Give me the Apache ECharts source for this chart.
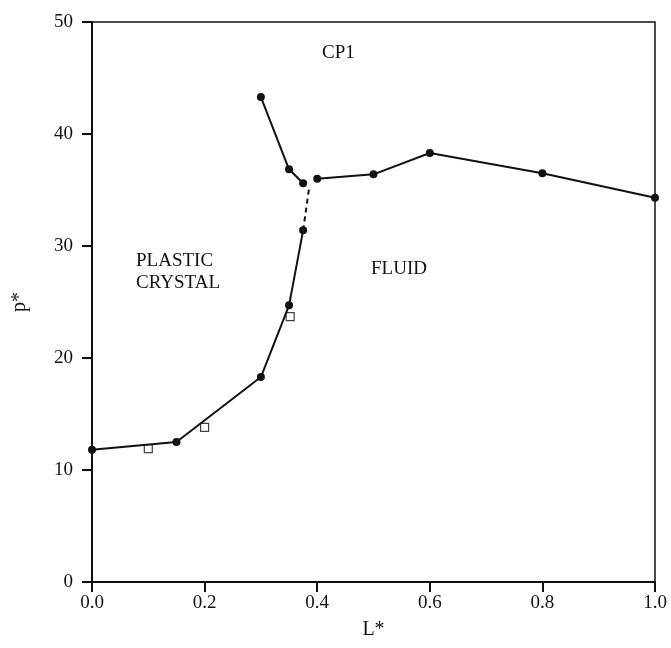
<!DOCTYPE html>
<html>
<head>
<meta charset="utf-8">
<script src="https://cdn.jsdelivr.net/npm/echarts@6/dist/echarts.min.js"></script>
<style>
  html, body { margin: 0; padding: 0; background: #fff; }
  #chart { width: 671px; height: 648px; }
</style>
</head>
<body>
<div id="chart"></div>
<script>
// phase boundaries, [L*, p*]
const upperBranch = [[0.3, 43.3], [0.35, 36.85], [0.375, 35.6]]
const fluidCp1 = [[0.4, 36.0], [0.5, 36.4], [0.6, 38.3], [0.8, 36.5], [1.0, 34.3]]
const plasticFluid = [[0.0, 11.8], [0.15, 12.5], [0.3, 18.3], [0.35, 24.7], [0.375, 31.4]]
const dashedLink = [[0.375, 31.4], [0.386, 35.3]]
const openSquares = [[0.1, 11.9], [0.2, 13.8], [0.352, 23.7]]

const xTicks = [0, 0.2, 0.4, 0.6, 0.8, 1.0]
const yTicks = [0, 10, 20, 30, 40, 50]

const font = 'Liberation Serif'
const black = '#111'

function solidLine(data) {
  return {
    type: 'line',
    data: data,
    symbol: 'circle',
    symbolSize: 8,
    itemStyle: { color: black },
    lineStyle: { color: black, width: 2 },
    silent: true
  }
}

const chart = echarts.init(document.getElementById('chart'))
chart.setOption({
  animation: false,
  grid: {
    left: 92, right: 16, top: 22, bottom: 66,
    show: true, borderColor: black, borderWidth: 1.5
  },
  xAxis: {
    type: 'value', min: 0, max: 1, interval: 0.2,
    name: 'L*', nameLocation: 'middle', nameGap: 38,
    nameTextStyle: { fontFamily: font, fontSize: 20, color: black },
    axisLine: { lineStyle: { color: black, width: 2 } },
    axisTick: { show: true, length: 10, lineStyle: { color: black, width: 2 } },
    axisLabel: {
      fontFamily: font, fontSize: 19, color: black, margin: 12,
      formatter: v => xTicks.includes(+v.toFixed(1)) ? v.toFixed(1) : ''
    },
    splitLine: { show: false }
  },
  yAxis: {
    type: 'value', min: 0, max: 50, interval: 10,
    name: 'p*', nameLocation: 'middle', nameGap: 62,
    nameTextStyle: { fontFamily: font, fontSize: 20, color: black },
    axisLine: { show: true, lineStyle: { color: black, width: 2 } },
    axisTick: { show: true, length: 10, lineStyle: { color: black, width: 2 } },
    axisLabel: {
      fontFamily: font, fontSize: 19, color: black, margin: 19,
      formatter: v => yTicks.includes(v) ? String(v) : ''
    },
    splitLine: { show: false }
  },
  series: [
    solidLine(upperBranch),
    solidLine(fluidCp1),
    solidLine(plasticFluid),
    {
      type: 'line',
      data: dashedLink,
      symbol: 'none',
      lineStyle: { color: black, width: 2, type: [5, 4] },
      silent: true
    },
    {
      type: 'scatter',
      data: openSquares,
      symbol: 'rect',
      symbolSize: 8,
      itemStyle: { color: '#fff', borderColor: black, borderWidth: 1.2 },
      silent: true
    }
  ],
  graphic: [
    { type: 'text', left: 322, top: 44, style: { text: 'CP1', font: '19px "Liberation Serif"', fill: black } },
    { type: 'text', left: 136, top: 250, style: { text: 'PLASTIC\nCRYSTAL', font: '19px "Liberation Serif"', fill: black, lineHeight: 22 } },
    { type: 'text', left: 371, top: 260, style: { text: 'FLUID', font: '19px "Liberation Serif"', fill: black } }
  ]
})
</script>
</body>
</html>
